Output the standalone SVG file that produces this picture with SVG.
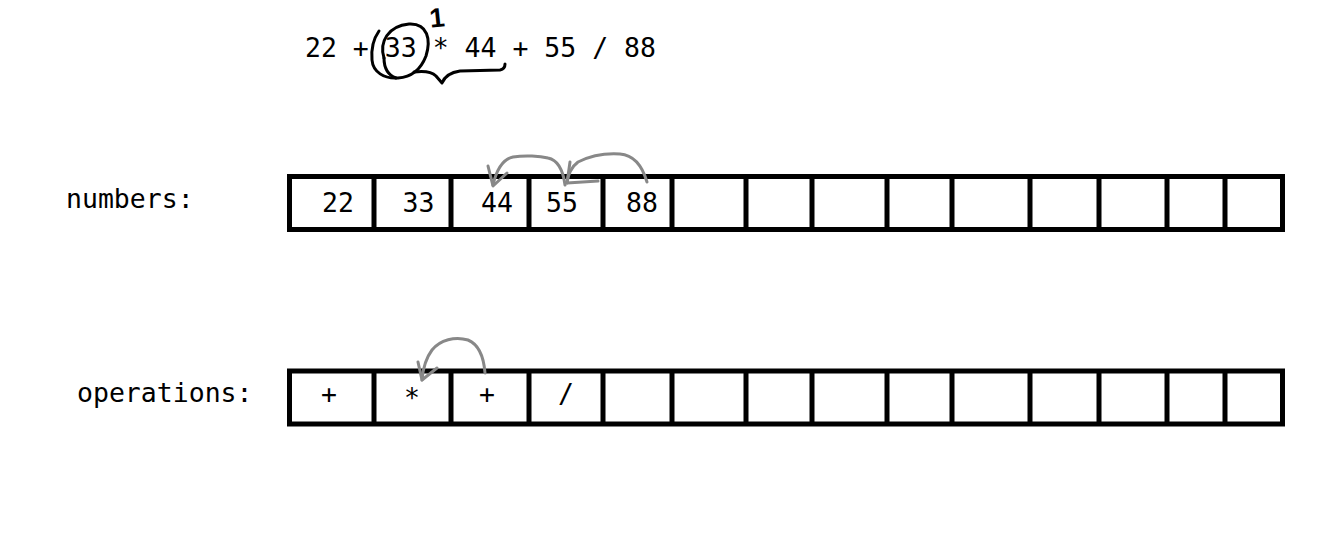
<svg xmlns="http://www.w3.org/2000/svg" width="1332" height="546" viewBox="0 0 1332 546">
<style>
.t{font-family:"DejaVu Sans Mono","Liberation Mono",monospace;font-size:26.5px;fill:#000}
.c{text-anchor:middle}
.box{fill:none;stroke:#000;stroke-width:5}
.div{stroke:#000;stroke-width:5}
.arr{fill:none;stroke:#888;stroke-width:3;stroke-linecap:round;stroke-linejoin:round}
.ink{fill:none;stroke:#000;stroke-width:3;stroke-linecap:round;stroke-linejoin:round}
</style>
<rect width="1332" height="546" fill="#fff"/>
<g id="expression">
<text class="t" x="305" y="57" font-size="26.7">22 + 33 * 44 + 55 / 88</text>
<path class="ink" d="M384,58 C379,42 388,26 409,24 C428,23 431,40 426,56 C421,69 413,77 398,78 C384,79 373,72 372,60 C371,48 374,38 379,31"/>
<path class="ink" d="M384,58 C384,68 388,75 396,78"/>
<path class="ink" d="M414,72 Q430,70 436,76 L442,83 Q446,73 460,71 L500,70 Q505,69 505,64"/>
<text x="438" y="27" font-family="Liberation Sans, sans-serif" font-size="27" font-weight="bold" text-anchor="middle" transform="rotate(-6 438 27)">1</text>
</g>
<g id="numbers-label"><text class="t" x="66" y="208">numbers:</text></g>
<g id="operations-label"><text class="t" x="77" y="402">operations:</text></g>
<g id="numbers-array">
<rect class="box" x="289.5" y="176.5" width="993" height="53"/>
<path class="div" d="M374,176V230M451,176V230M529,176V230M603,176V230M672,176V230M746,176V230M812,176V230M887,176V230M952,176V230M1030,176V230M1099,176V230M1167,176V230M1225,176V230"/>
<text class="t c" x="338" y="212">22</text>
<text class="t c" x="418.5" y="212">33</text>
<text class="t c" x="497" y="212">44</text>
<text class="t c" x="562" y="212">55</text>
<text class="t c" x="642" y="212">88</text>
</g>
<g id="operations-array">
<rect class="box" x="289.5" y="371" width="993" height="53"/>
<path class="div" d="M374,371V424M451,371V424M529,371V424M603,371V424M672,371V424M746,371V424M812,371V424M887,371V424M952,371V424M1030,371V424M1099,371V424M1167,371V424M1225,371V424"/>
<text class="t c" x="329" y="403">+</text>
<text class="t c" x="412" y="407">*</text>
<text class="t c" x="487" y="403">+</text>
<text class="t c" x="566" y="403">/</text>
</g>
<g id="connectors">
<path class="arr" d="M565,185 C563,170 558,160 548,158 C540,156 525,155 513,157 C503,159 497,168 493,185"/>
<path class="arr" d="M488,166 L493,186 L507,173"/>
<path class="arr" d="M647,182 C642,165 633,155 620,154 C605,153 590,156 578,162 C570,168 568,175 567,183"/>
<path class="arr" d="M570,162 L567,183 L598,181"/>
<path class="arr" d="M485,373 C484,360 480,345 468,340 C455,336 440,340 432,350 C426,358 423,368 422,380"/>
<path class="arr" d="M418,362 L422,380 L437,368"/>
</g>
</svg>
